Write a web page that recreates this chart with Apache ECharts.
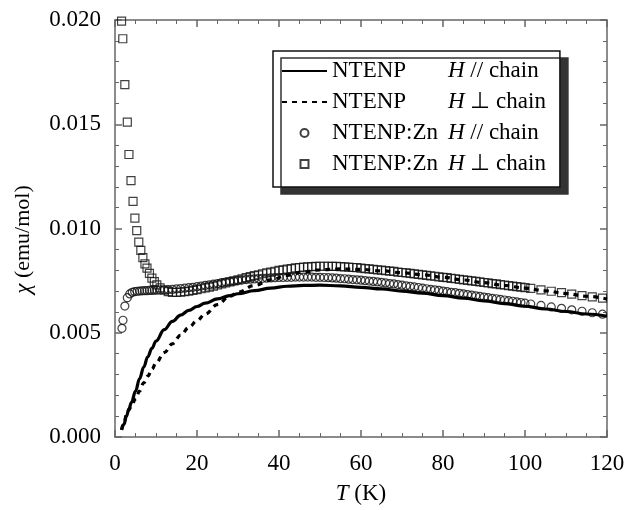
<!DOCTYPE html>
<html>
<head>
<meta charset="utf-8">
<script src="https://cdn.jsdelivr.net/npm/echarts@6/dist/echarts.min.js"></script>
<style>
html,body{margin:0;padding:0;background:#fff;}
#chart{width:628px;height:510px;}
</style>
</head>
<body>
<div id="chart"></div>
<script>
// ---- data ----
var seriesNames = ['NTENP|// chain', 'NTENP|\u22A5 chain', 'NTENP:Zn|// chain', 'NTENP:Zn|\u22A5 chain'];

var tLine = [1.6,2.2,2.8,3.4,4.0,5.0,6.0,7.0,8.0,9.0,10,12,14,16,18,20,22,25,28,30,34,38,42,46,50,55,60,65,70,75,80,85,90,95,100,105,110,115,120];
var chiSolid = [0.00034,0.00062,0.0010,0.00135,0.00165,0.0022,0.0028,0.00335,0.00385,0.00425,0.0046,0.00515,0.00555,0.00585,0.00607,0.00626,0.00642,0.00662,0.00678,0.00687,0.00702,0.00714,0.00723,0.00727,0.00728,0.00725,0.00718,0.00710,0.00700,0.00690,0.00678,0.00666,0.00653,0.00640,0.00627,0.00614,0.00602,0.00590,0.00579];
var chiDashed = [0.00034,0.0007,0.00107,0.0013,0.00148,0.00182,0.0022,0.0026,0.00292,0.00325,0.00355,0.00405,0.00447,0.00488,0.00525,0.00558,0.0059,0.00635,0.00675,0.00695,0.00727,0.00754,0.00775,0.00792,0.00802,0.00806,0.00804,0.00797,0.00788,0.00778,0.00766,0.00753,0.00740,0.00727,0.00714,0.00701,0.00688,0.00675,0.00662];

var tCircles = [1.7,1.95,2.4,3.0,3.6,4.2,4.8,5.4,6.0,6.6,7.2,7.8,8.4,9.0,9.6,10.2,
  11,12,13,14,15,16,17,18,19,20,21,22,23,24,25,26,27,28,29,30,31,32,33,34,35,36,37,38,39,40,
  41,42,43,44,45,46,47,48,49,50,51,52,53,54,55,56,57,58,59,60,61,62,63,64,65,66,67,68,69,70,
  71,72,73,74,75,76,77,78,79,80,81,82,83,84,85,86,87,88,89,90,91,92,93,94,95,96,97,98,99,100,
  101.4,103.9,106.4,108.9,111.4,113.9,116.4,118.9];
var chiCircles = [0.00521,0.00560,0.00628,0.00668,0.00686,0.00694,0.00697,0.00699,0.00700,0.00701,0.00702,0.00702,0.00703,0.00703,0.00704,0.00704,
  0.00705,0.00706,0.00707,0.00708,0.00710,0.00712,0.00714,0.00716,0.00718,0.00721,0.00724,0.00727,0.00730,0.00733,0.00736,0.00740,0.00743,0.00746,0.00748,0.00751,0.00753,0.00755,0.00757,0.00758,0.00760,0.00761,0.00762,0.00763,0.00764,0.00765,
  0.00765,0.00766,0.00766,0.00767,0.00767,0.00767,0.00767,0.00767,0.00766,0.00766,0.00765,0.00764,0.00763,0.00762,0.00760,0.00759,0.00757,0.00755,0.00754,0.00752,0.00750,0.00748,0.00746,0.00744,0.00742,0.00739,0.00736,0.00734,0.00731,0.00728,
  0.00725,0.00722,0.00720,0.00717,0.00714,0.00711,0.00708,0.00706,0.00703,0.00700,0.00697,0.00694,0.00692,0.00689,0.00686,0.00683,0.00680,0.00677,0.00674,0.00671,0.00668,0.00665,0.00663,0.00660,0.00657,0.00654,0.00651,0.00648,0.00645,0.00642,
  0.00638,0.00631,0.00624,0.00617,0.00610,0.00603,0.00596,0.00589];

var tSquares = [1.6,1.9,2.4,3.0,3.4,3.9,4.4,4.85,5.3,5.8,6.3,6.8,7.3,7.8,8.4,9.0,9.6,10.2,
  11,12,13,14,15,16,17,18,19,20,21,22,23,24,25,26,27,28,29,30,31,32,33,34,35,36,37,38,39,40,
  41,42,43,44,45,46,47,48,49,50,51,52,53,54,55,56,57,58,59,60,61,62,63,64,65,66,67,68,69,70,
  71,72,73,74,75,76,77,78,79,80,81,82,83,84,85,86,87,88,89,90,91,92,93,94,95,96,97,98,99,100,
  101.4,103.9,106.4,108.9,111.4,113.9,116.4,118.9];
var chiSquares = [0.01995,0.0191,0.0169,0.0151,0.01355,0.0123,0.0113,0.0105,0.0099,0.00935,0.00895,0.0086,0.0083,0.0081,0.00785,0.00762,0.00745,0.0073,
  0.00715,0.00704,0.00697,0.00694,0.00694,0.00695,0.00697,0.00700,0.00703,0.00707,0.00711,0.00715,0.00719,0.00724,0.00729,0.00734,0.00739,0.00744,0.00749,0.00754,0.00759,0.00764,0.00769,0.00774,0.00778,0.00783,0.00787,0.00791,0.00795,0.00799,
  0.00802,0.00805,0.00808,0.00811,0.00813,0.00815,0.00816,0.00817,0.00818,0.00819,0.00819,0.00819,0.00818,0.00818,0.00817,0.00816,0.00815,0.00813,0.00812,0.00810,0.00808,0.00806,0.00804,0.00802,0.00800,0.00798,0.00796,0.00794,0.00791,0.00789,
  0.00787,0.00785,0.00782,0.00780,0.00778,0.00775,0.00773,0.00771,0.00768,0.00766,0.00764,0.00761,0.00759,0.00756,0.00754,0.00751,0.00749,0.00746,0.00744,0.00741,0.00739,0.00736,0.00734,0.00731,0.00729,0.00726,0.00724,0.00721,0.00719,0.00716,
  0.00713,0.00706,0.00699,0.00692,0.00685,0.00678,0.00672,0.00666];

var xTicks = [0,20,40,60,80,100,120];
var yTicks = [0.000,0.005,0.010,0.015,0.020];

// ---- build ----
function zip(a,b){ var r=[]; for (var i=0;i<a.length;i++) r.push([a[i],b[i]]); return r; }
var FONT = '"Liberation Serif","Times New Roman",serif';
var AX = '#666';

var chart = echarts.init(document.getElementById('chart'), null, {renderer:'canvas'});
function axisCommon(show){
  return {
    axisLine:{show:true,onZero:false,lineStyle:{color:AX,width:1.5}},
    axisTick:{show:true,inside:true,length:7,lineStyle:{color:AX,width:1.5}},
    minorTick:{show:true,splitNumber:4,length:4,lineStyle:{color:AX,width:1}},
    splitLine:{show:false},
    axisLabel:{show:show,color:'#000',fontFamily:FONT,fontSize:23}
  };
}
var nameStyle = {color:'#000',fontFamily:FONT,fontSize:23,rich:{i:{fontStyle:'italic',fontFamily:FONT,fontSize:23,color:'#000'}}};
var xb = Object.assign(axisCommon(true), {type:'value',position:'bottom',min:xTicks[0],max:xTicks[xTicks.length-1],interval:20,
  name:'{i|T} (K)',nameLocation:'middle',nameGap:45,nameTextStyle:nameStyle});
xb.axisLabel.margin = 15;
var xt = Object.assign(axisCommon(false), {type:'value',position:'top',min:0,max:120,interval:20});
var yl = Object.assign(axisCommon(true), {type:'value',position:'left',min:yTicks[0],max:yTicks[yTicks.length-1],interval:0.005,
  name:'{i|\u03C7} (emu/mol)',nameLocation:'middle',nameGap:80,nameRotate:90,
  nameTextStyle:Object.assign({}, nameStyle, {fontSize:22, padding:[0,22,0,0]})});
yl.minorTick.splitNumber = 5;
yl.axisLabel.margin = 14;
yl.axisLabel.formatter = function(v){ return v.toFixed(3); };
var yr = Object.assign(axisCommon(false), {type:'value',position:'right',min:0,max:0.020,interval:0.005});
yr.minorTick.splitNumber = 5;

var LF = 23;
var option = {
  animation:false,
  backgroundColor:'#fff',
  grid:{left:115,right:21,top:20,bottom:73,containLabel:false},
  xAxis:[xb, xt],
  yAxis:[yl, yr],
  legend:{
    orient:'vertical', left:273, top:51,
    padding:[8,14,11,8], itemGap:7, itemWidth:45, itemHeight:8,
    backgroundColor:'#fff', borderColor:'#111', borderWidth:1.5,
    shadowColor:'#333', shadowOffsetX:8, shadowOffsetY:7, shadowBlur:0,
    data:[
      {name:seriesNames[0], itemStyle:{opacity:0}},
      {name:seriesNames[1], itemStyle:{opacity:0}},
      {name:seriesNames[2], icon:'circle'},
      {name:seriesNames[3], icon:'path://M0,0L10,0L10,10L0,10Z'}
    ],
    formatter:function(name){ var p=name.split('|'); return '{a|'+p[0]+'}{h|H}{b| '+p[1]+'}'; },
    textStyle:{color:'#000',fontFamily:FONT,fontSize:LF,lineHeight:24,
      rich:{a:{width:116,fontFamily:FONT,fontSize:LF,lineHeight:24,color:'#000'},
            h:{fontStyle:'italic',fontFamily:FONT,fontSize:LF,lineHeight:24,color:'#000'},
            b:{fontFamily:FONT,fontSize:LF,lineHeight:24,color:'#000'}}}
  },
  series:[
    {name:seriesNames[0],type:'line',data:zip(tLine,chiSolid),symbol:'none',smooth:0.4,smoothMonotone:'x',z:5,
     lineStyle:{color:'#000',width:3.2},itemStyle:{color:'#000'}},
    {name:seriesNames[1],type:'line',data:zip(tLine,chiDashed),symbol:'none',smooth:0.4,smoothMonotone:'x',z:5,
     lineStyle:{color:'#000',width:3.2,type:[5,5]},itemStyle:{color:'#000'}},
    {name:seriesNames[2],type:'scatter',data:zip(tCircles,chiCircles),symbol:'circle',symbolSize:8,z:3,
     itemStyle:{color:'rgba(255,255,255,0)',borderColor:'#111',borderWidth:1.2}},
    {name:seriesNames[3],type:'scatter',data:zip(tSquares,chiSquares),symbol:'rect',symbolSize:8,z:3,
     itemStyle:{color:'rgba(255,255,255,0)',borderColor:'#111',borderWidth:1.2}}
  ]
};
chart.setOption(option);
</script>
</body>
</html>
